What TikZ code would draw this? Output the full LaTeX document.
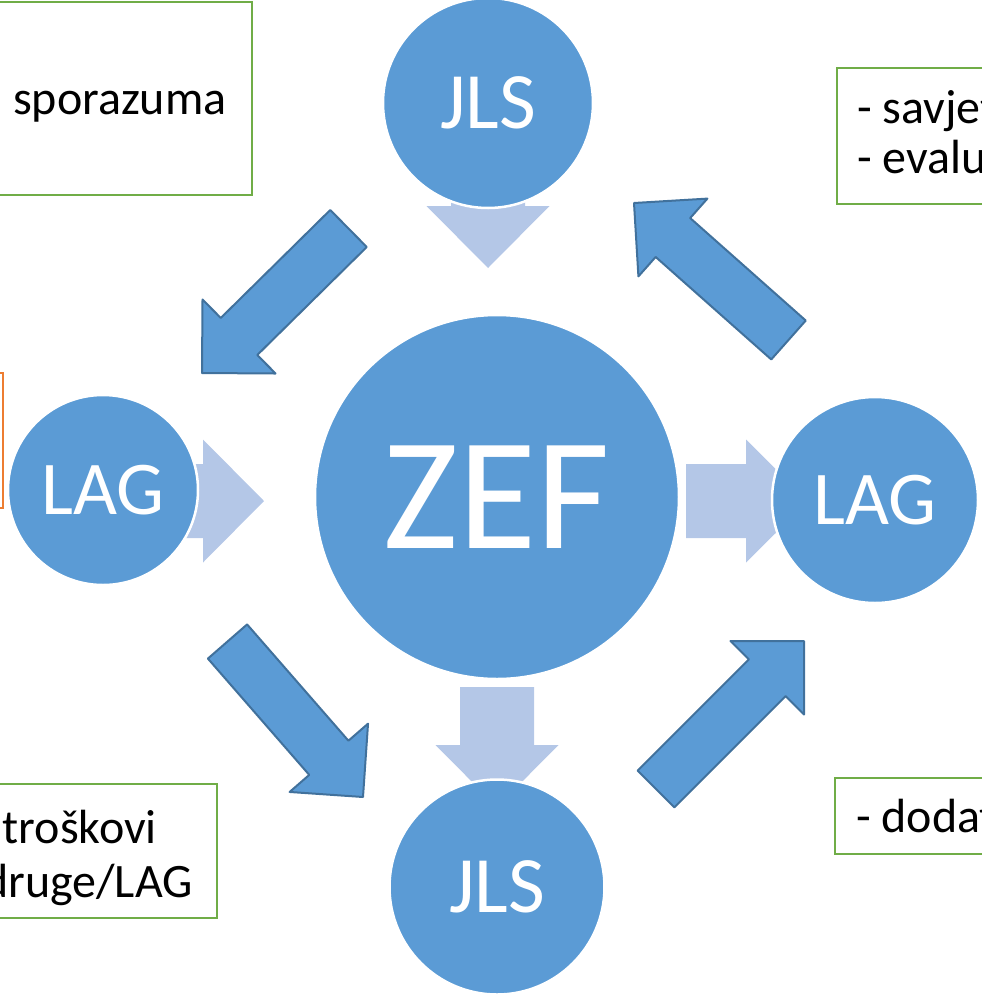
\documentclass[tikz,border=0pt]{standalone}
\usepackage{fontspec}
\setmainfont{Carlito}
\usetikzlibrary{calc}

\definecolor{circblue}{HTML}{5B9BD5}
\definecolor{arrowedge}{HTML}{41719C}
\definecolor{lightarrow}{HTML}{B4C7E7}
\definecolor{boxgreen}{HTML}{70AD47}
\definecolor{boxorange}{HTML}{ED7D31}

% block arrow: style, tail, tip, half shaft, half head, head length
\newcommand{\blockarrow}[6]{%
  \path ($(#3)!#6!(#2)$) coordinate (ab);
  \draw [#1] ($(#2)!#4!90:(#3)$) -- ($(ab)!#4!90:(#3)$) -- ($(ab)!#5!90:(#3)$)
    -- (#3) -- ($(ab)!#5!-90:(#3)$) -- ($(ab)!#4!-90:(#3)$) -- ($(#2)!#4!-90:(#3)$) -- cycle;
}

\begin{document}
\begin{tikzpicture}[x=1pt, y=-1pt,
    greenbox/.style={draw=boxgreen, line width=2pt},
    boxtext/.style={font=\fontsize{48}{53}\selectfont, inner sep=0pt},
    ball/.style={circle, fill=circblue, draw=white, line width=2.5pt, text=white, inner sep=0pt},
    darkarrow/.style={fill=circblue, draw=arrowedge, line width=2pt, line join=round},
    lightblock/.style={fill=lightarrow, draw=none}]
    \useasboundingbox (0,0) rectangle (982,994);
    % text boxes
    \draw [greenbox] (-20,2) rectangle (252,195);
    \draw [greenbox] (837,68) rectangle (1000,204);
    \draw [draw=boxorange, line width=2pt] (-20,373) rectangle (3,508);
    \draw [greenbox] (-20,784) rectangle (217,918);
    \draw [greenbox] (835,778) rectangle (1000,854);
    \node [boxtext, anchor=base west] (spor) at (13,114) {sporazuma};
    \node [boxtext, anchor=base west] (savj) at (857,123) {- savjet};
    \node [boxtext, anchor=base west] (eval) at (857,173) {- evalu};
    \node [boxtext, anchor=base east] (tros) at (157,843) {troškovi};
    \node [boxtext, anchor=base east] (drug) at (193,897) {druge/LAG};
    \node [boxtext, anchor=base west] (doda) at (856,832) {- dodat};
    % light arrows towards and away from ZEF
    \coordinate (ltT) at (488,150);  \coordinate (ltP) at (488,268);
    \coordinate (llT) at (150,501);  \coordinate (llP) at (264,501);
    \coordinate (lrT) at (686,501);  \coordinate (lrP) at (808,501);
    \coordinate (lbT) at (497,687);  \coordinate (lbP) at (497,807);
    \blockarrow{lightblock}{ltT}{ltP}{37pt}{61.5pt}{62pt}
    \blockarrow{lightblock}{llT}{llP}{37pt}{61.5pt}{61pt}
    \blockarrow{lightblock}{lrT}{lrP}{37pt}{61.5pt}{62pt}
    \blockarrow{lightblock}{lbT}{lbP}{37pt}{61.5pt}{62pt}
    % circles
    \node [ball, minimum size=210pt, font=\fontsize{80}{80}\selectfont] (jlsTop) at (488,103) {JLS};
    \node [ball, minimum size=364pt, font=\fontsize{160}{160}\selectfont] (zef) at (497,497) {ZEF};
    \node [ball, minimum size=190pt, font=\fontsize{76}{76}\selectfont] (lagL) at (103,490) {LAG};
    \node [ball, minimum size=206pt, font=\fontsize{76}{76}\selectfont] (lagR) at (875,500) {LAG};
    \node [ball, minimum size=215pt, font=\fontsize{80}{80}\selectfont] (jlsBot) at (497,887) {JLS};
    % dark arrows round the cycle
    \coordinate (d1T) at (348.5,228.5); \coordinate (d1P) at (202,373);
    \coordinate (d2T) at (788.5,340);   \coordinate (d2P) at (634,203);
    \coordinate (d3T) at (227.5,641.5); \coordinate (d3P) at (363,797);
    \coordinate (d4T) at (656,789);     \coordinate (d4P) at (804,641);
    \blockarrow{darkarrow}{d1T}{d1P}{26pt}{52pt}{52pt}
    \blockarrow{darkarrow}{d2T}{d2P}{26pt}{52pt}{52pt}
    \blockarrow{darkarrow}{d3T}{d3P}{26pt}{52pt}{52pt}
    \blockarrow{darkarrow}{d4T}{d4P}{26pt}{52pt}{52pt}
\end{tikzpicture}
\end{document}
